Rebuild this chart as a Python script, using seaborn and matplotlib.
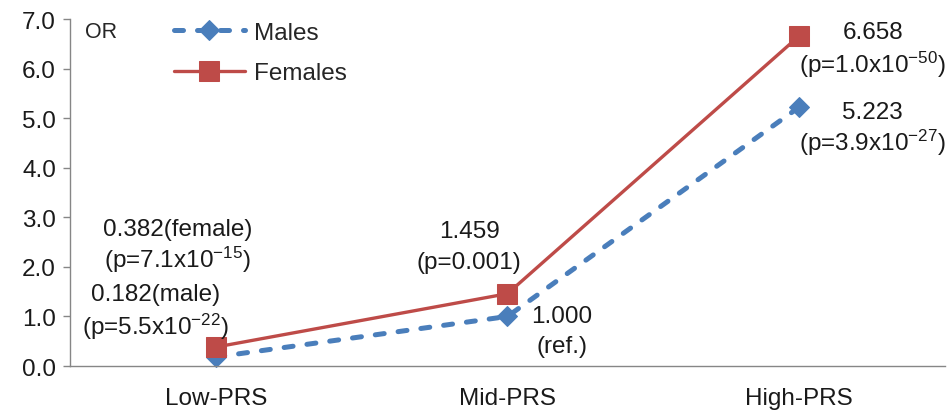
import matplotlib
matplotlib.use("Agg")
import matplotlib.pyplot as plt
import seaborn as sns
import pandas as pd

groups = ["Low-PRS", "Mid-PRS", "High-PRS"]
males_or = [0.182, 1.000, 5.223]
females_or = [0.382, 1.459, 6.658]
yticks = [0.0, 1.0, 2.0, 3.0, 4.0, 5.0, 6.0, 7.0]

sns.set_style("white")
plt.rcParams["font.family"] = ["Liberation Sans", "DejaVu Sans"]
plt.rcParams["mathtext.fontset"] = "custom"
plt.rcParams["mathtext.rm"] = "Liberation Sans"
plt.rcParams["mathtext.it"] = "Liberation Sans"
plt.rcParams["mathtext.default"] = "regular"

blue = "#4a7ebb"
red = "#be4b48"
fs = 17.5

df = pd.DataFrame({
    "group": groups * 2,
    "OR": males_or + females_or,
    "sex": ["Males"] * 3 + ["Females"] * 3,
})

fig = plt.figure(figsize=(9.51, 4.14), dpi=100)
ax = fig.add_axes([0.0736, 0.1135, 0.92, 0.838])

sns.lineplot(data=df[df.sex == "Males"], x="group", y="OR", ax=ax, color=blue,
             linestyle=(0, (1.8, 2.8)), dash_capstyle="round", linewidth=3.6,
             marker="D", markersize=10.5, markeredgecolor=blue, label="Males", clip_on=False)
sns.lineplot(data=df[df.sex == "Females"], x="group", y="OR", ax=ax, color=red,
             linewidth=2.4, marker="s", markersize=15, markeredgecolor=red,
             label="Females", clip_on=False)

ax.set_xlim(-0.5, 2.5)
ax.set_ylim(0, 7)
ax.set_yticks(yticks)
ax.set_yticklabels([f"{v:.1f}" for v in yticks], fontsize=fs, color="#1a1a1a")
ax.tick_params(axis="x", labelsize=fs, labelcolor="#1a1a1a", length=0, pad=15)
ax.tick_params(axis="y", length=5, width=1, color="#868686", direction="out", pad=5, left=True)
ax.set_xlabel("")
ax.set_ylabel("")
for side in ["top", "right"]:
    ax.spines[side].set_visible(False)
for side in ["left", "bottom"]:
    ax.spines[side].set_color("#868686")
    ax.spines[side].set_linewidth(1)

ax.text(0.017, 0.995, "OR", transform=ax.transAxes, fontsize=fs - 2, va="top", ha="left")

kw = dict(fontsize=fs, ha="center", va="center", color="#1a1a1a")
ax.text(-0.131, 2.76, "0.382(female)", **kw)
ax.text(-0.131, 2.16, "(p=7.1x$10^{-15}$)", **kw)
ax.text(-0.207, 1.45, "0.182(male)", **kw)
ax.text(-0.207, 0.81, "(p=5.5x$10^{-22}$)", **kw)
ax.text(0.869, 2.72, "1.459", **kw)
ax.text(0.869, 2.10, "(p=0.001)", **kw)
ax.text(1.186, 1.01, "1.000", **kw)
ax.text(1.186, 0.40, "(ref.)", **kw)
ax.text(2.252, 6.73, "6.658", **kw)
ax.text(2.252, 6.09, "(p=1.0x$10^{-50}$)", **kw)
ax.text(2.252, 5.12, "5.223", **kw)
ax.text(2.252, 4.52, "(p=3.9x$10^{-27}$)", **kw)

ax.legend(loc="upper left", bbox_to_anchor=(0.094, 1.055), frameon=False, fontsize=fs,
          handlelength=2.9, labelspacing=0.75, handletextpad=0.4)

fig.savefig("out.png", dpi=100)
